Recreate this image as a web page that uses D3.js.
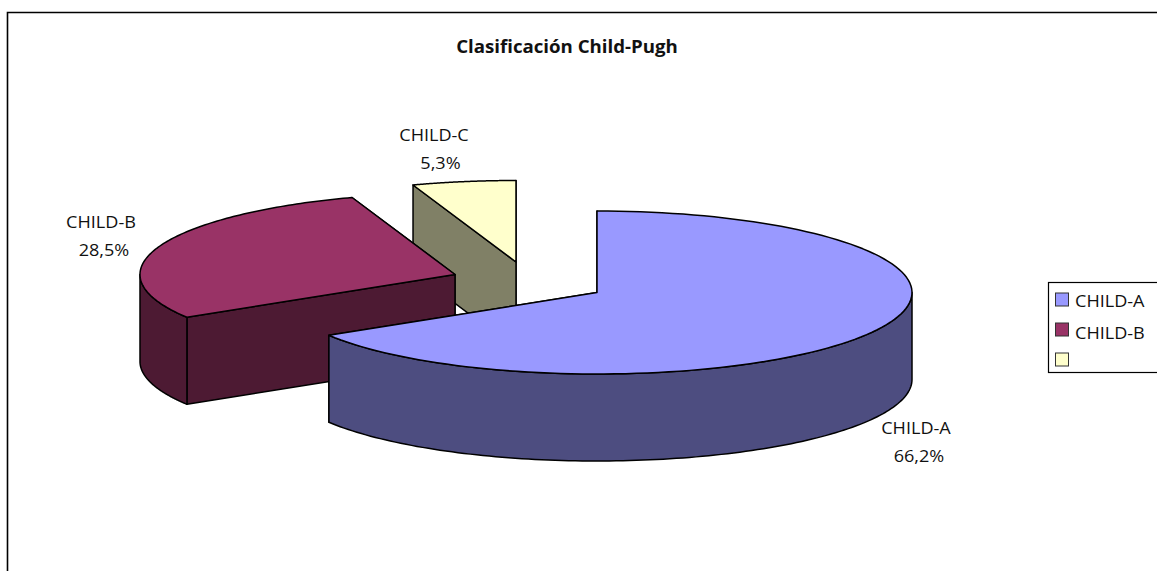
<!DOCTYPE html>
<html>
<head>
<meta charset="utf-8">
<script src="https://cdn.jsdelivr.net/npm/d3@7/dist/d3.min.js"></script>
<style>
  html, body { margin: 0; padding: 0; background: #fff; overflow: hidden; }
  svg { display: block; }
  text { font-family: "Open Sans", "Noto Sans", sans-serif; fill: #111; }
</style>
</head>
<body>
<svg id="chart" width="1157" height="571"></svg>
<script>
// Chart content
const chartTitle = "Clasificación Child-Pugh";
const sliceNames = ["CHILD-A", "CHILD-B", "CHILD-C"];
const sliceShares = [66.2, 28.5, 5.3];
const legendNames = ["CHILD-A", "CHILD-B", ""];

// Appearance
const topColors = ["#9999FF", "#993366", "#FFFFCC"];
const wallColors = ["#4D4D80", "#4D1A33", "#808066"];

// Layout of the tilted pie
const radiusX = 315, radiusY = 81.5, depth = 87;
const sliceCentres = [[597, 292.5], [455, 274.5], [516, 262]];
const labelAnchors = [[916, 428, 919, 456], [101, 222, 104, 250], [434, 135, 440.5, 163]];

const svg = d3.select("#chart");
const line = d3.line();
const pieAngles = d3.pie().sort(null).startAngle(0).endAngle(2 * Math.PI)(sliceShares);

// Text set slightly wider than the font's natural proportions
function wideText(parent, x, y, anchor, size, stretch, content) {
  return parent.append("text")
    .attr("transform", `translate(${x},${y}) scale(${stretch},1)`)
    .attr("text-anchor", anchor)
    .attr("font-size", size)
    .text(content);
}

// Outer frame: only the top and left edges fall inside the canvas
svg.append("path")
  .attr("d", "M7.5,571V12.5H1157")
  .attr("fill", "none").attr("stroke", "#000").attr("stroke-width", 1.6);

wideText(svg, 567, 52.5, "middle", 17.5, 1.067, chartTitle).attr("font-weight", 700);

// Point on the rim of a slice; angles run clockwise from twelve o'clock
function rim(centre, angle, drop) {
  return [
    centre[0] + radiusX * Math.sin(angle),
    centre[1] - radiusY * Math.cos(angle) + drop
  ];
}

function rimArc(centre, from, to, drop) {
  return d3.range(0, 121).map(i => rim(centre, from + (to - from) * i / 120, drop));
}

const paintOrder = [2, 1, 0];
const edgeStyle = sel => sel
  .attr("stroke", "#000").attr("stroke-width", 1.5).attr("stroke-linejoin", "round");

const slices = svg.selectAll("g.slice")
  .data(paintOrder.map(i => ({ index: i, arc: pieAngles[i], centre: sliceCentres[i] })))
  .join("g").attr("class", "slice");

slices.each(function (d) {
  const g = d3.select(this);
  const c = d.centre, a0 = d.arc.startAngle, a1 = d.arc.endAngle;
  const apex = [c[0], c[1]], apexLow = [c[0], c[1] + depth];

  // Radial faces, then the curved wall on the near half of the rim
  [a1, a0].forEach(a => {
    g.append("path")
      .attr("d", line([apex, rim(c, a, 0), rim(c, a, depth), apexLow]) + "Z")
      .attr("fill", wallColors[d.index]).call(edgeStyle);
  });

  const from = Math.max(a0, Math.PI / 2), to = Math.min(a1, 3 * Math.PI / 2);
  if (from < to) {
    const wall = rimArc(c, from, to, 0).concat(rimArc(c, to, from, depth));
    g.append("path")
      .attr("d", line(wall) + "Z")
      .attr("fill", wallColors[d.index]).call(edgeStyle);
  }

  g.append("path")
    .attr("d", line([apex].concat(rimArc(c, a0, a1, 0))) + "Z")
    .attr("fill", topColors[d.index]).call(edgeStyle);
});

// Category and percentage labels
const labels = svg.selectAll("g.label").data(sliceNames).join("g").attr("class", "label");
labels.each(function (name, i) {
  const p = labelAnchors[i], g = d3.select(this);
  wideText(g, p[0], p[1] + 6, "middle", 16, 1.13, name);
  wideText(g, p[2], p[3] + 6, "middle", 16, 1.13,
    sliceShares[i].toFixed(1).replace(".", ",") + "%");
});

// Legend box runs off the right side of the canvas
const legend = svg.append("g");
legend.append("rect")
  .attr("x", 1048.5).attr("y", 282.5).attr("width", 130).attr("height", 90)
  .attr("fill", "#fff").attr("stroke", "#000").attr("stroke-width", 1.2);

const rows = d3.range(legendNames.length);
const swatchY = d3.scalePoint().domain(rows).range([299.5, 359.5]);
const nameY = d3.scalePoint().domain(rows).range([301, 365]);
const row = legend.selectAll("g.row").data(legendNames).join("g").attr("class", "row");
row.append("rect")
  .attr("x", 1055.5).attr("y", (d, i) => swatchY(i) - 6.5)
  .attr("width", 13).attr("height", 13)
  .attr("fill", (d, i) => topColors[i])
  .attr("stroke", "#333").attr("stroke-width", 1);
row.each(function (d, i) {
  wideText(d3.select(this), 1075, nameY(i) + 6, "start", 16, 1.13, d);
});
</script>
</body>
</html>
